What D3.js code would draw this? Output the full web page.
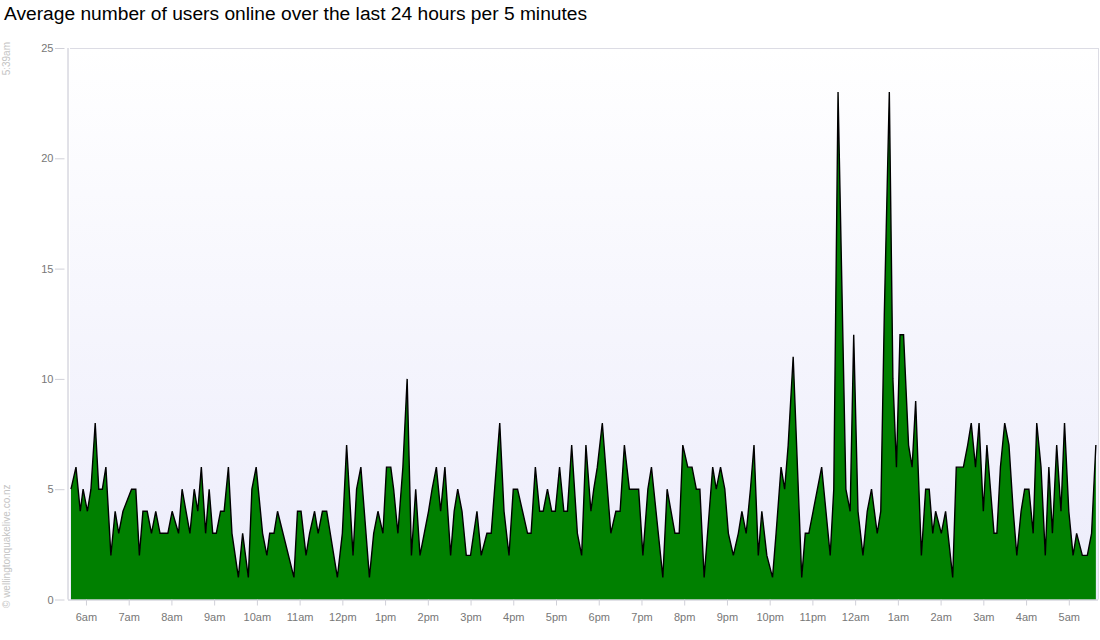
<!DOCTYPE html>
<html>
<head>
<meta charset="utf-8">
<script src="https://cdn.jsdelivr.net/npm/d3@7"></script>
<style>
  html, body { margin: 0; padding: 0; background: #ffffff; }
  svg { display: block; }
</style>
</head>
<body>
<svg id="chart" width="1100" height="640"></svg>
<script>
// ---- data ----
const title = "Average number of users online over the last 24 hours per 5 minutes";
const startLabel = "5:39am";
const credit = "\u00a9 wellingtonquakelive.co.nz";

// minutes after 5:39am
const minutes = [
  0, 7, 13, 17, 23, 28, 34, 39, 44, 49, 56, 62, 67, 73, 85, 91, 96, 101, 107, 113, 119, 125, 136, 142, 151, 156, 167, 173, 178,
  183, 189, 194, 199, 204, 210, 215, 221, 226, 235, 241, 249, 254, 260, 269, 275, 279, 285, 290, 313, 318, 323, 330, 335, 342, 347, 353, 359,
  374, 381, 387, 396, 401, 407, 419, 425, 431, 438, 443, 449, 453, 459, 466, 472, 478, 484, 490, 496, 502, 507, 513, 519, 525, 533,
  538, 543, 549, 555, 561, 570, 576, 584, 590, 602, 608, 615, 621, 627, 634, 641, 646, 652, 658, 663, 669, 675, 680, 686, 692, 697, 703, 711, 717,
  723, 730, 734, 739, 746, 758, 765, 771, 777, 784, 790, 797, 803, 810, 815, 831, 837, 848, 854, 859, 866, 872, 878, 883, 889, 901,
  906, 912, 918, 923, 930, 937, 942, 948, 954, 959, 965, 970, 977, 985, 990, 997, 1002, 1007, 1014, 1026, 1031, 1036, 1042, 1048, 1054, 1066, 1071,
  1077, 1088, 1094, 1099, 1105, 1112, 1118, 1124, 1132, 1137, 1142, 1149, 1154, 1159, 1164, 1169, 1176, 1181, 1186, 1194, 1200, 1205, 1210, 1214, 1222, 1228, 1238, 1243, 1253,
  1259, 1264, 1270, 1275, 1281, 1286, 1296, 1300, 1305, 1311, 1317, 1323, 1328, 1334, 1339, 1345, 1351, 1356, 1362, 1368, 1373, 1378, 1384, 1390, 1395, 1401, 1407, 1412, 1420, 1427, 1433, 1439
];
const users = [
  5, 6, 4, 5, 4, 5, 8, 5, 5, 6, 2, 4, 3, 4, 5, 5, 2, 4, 4, 3, 4, 3, 3, 4, 3, 5, 3, 5, 4,
  6, 3, 5, 3, 3, 4, 4, 6, 3, 1, 3, 1, 5, 6, 3, 2, 3, 3, 4, 1, 4, 4, 2, 3, 4, 3, 4, 4,
  1, 3, 7, 2, 5, 6, 1, 3, 4, 3, 6, 6, 5, 3, 6, 10, 2, 5, 2, 3, 4, 5, 6, 4, 6, 2,
  4, 5, 4, 2, 2, 4, 2, 3, 3, 8, 4, 2, 5, 5, 4, 3, 3, 6, 4, 4, 5, 4, 4, 6, 4, 4, 7, 3, 2,
  7, 4, 5, 6, 8, 3, 4, 4, 7, 5, 5, 5, 2, 5, 6, 1, 5, 3, 3, 7, 6, 6, 5, 5, 1, 6,
  5, 6, 5, 3, 2, 3, 4, 3, 5, 7, 2, 4, 2, 1, 3, 6, 5, 7, 11, 1, 3, 3, 4, 5, 6, 2, 5,
  23, 5, 4, 12, 4, 2, 4, 5, 3, 4, 13, 23, 10, 6, 12, 12, 7, 6, 9, 2, 5, 5, 3, 4, 3, 4, 1, 6, 6,
  7, 8, 6, 8, 4, 7, 3, 3, 6, 8, 7, 4, 2, 4, 5, 5, 3, 8, 6, 2, 6, 3, 7, 4, 8, 4, 2, 3, 2, 2, 3, 7
];
const yTicks = [0, 5, 10, 15, 20, 25];
const hourLabels = ["6am","7am","8am","9am","10am","11am","12pm","1pm","2pm","3pm","4pm","5pm",
                    "6pm","7pm","8pm","9pm","10pm","11pm","12am","1am","2am","3am","4am","5am"];
const yMax = 25;
const spanMinutes = 1442;

// ---- layout ----
const svg = d3.select("#chart");
const pLeft = 70, pRight = 1098, pTop = 48, pBottom = 599.5;
const start = new Date(2011, 8, 1, 5, 39);
const toDate = m => new Date(start.getTime() + m * 60000);

const x = d3.scaleTime()
  .domain([start, toDate(spanMinutes)])
  .range([pLeft + 1, pRight]);
const y = d3.scaleLinear().domain([0, yMax]).range([pBottom, pTop]);

const data = minutes.map((m, i) => ({ t: toDate(m), v: users[i] }));

// background gradient
const defs = svg.append("defs");
const grad = defs.append("linearGradient").attr("id", "bg")
  .attr("x1", 0).attr("y1", 0).attr("x2", 0).attr("y2", 1);
grad.append("stop").attr("offset", "0%").attr("stop-color", "#ffffff");
grad.append("stop").attr("offset", "100%").attr("stop-color", "#ececfb");

svg.append("rect")
  .attr("x", pLeft).attr("y", pTop)
  .attr("width", pRight - pLeft).attr("height", pBottom - pTop)
  .attr("fill", "url(#bg)");

// border top and right
svg.append("line").attr("x1", pLeft).attr("x2", pRight + 0.5).attr("y1", pTop + 0.5).attr("y2", pTop + 0.5)
  .attr("stroke", "#dcdce4").attr("stroke-width", 1);
svg.append("line").attr("x1", pRight + 0.5).attr("x2", pRight + 0.5).attr("y1", pTop).attr("y2", pBottom)
  .attr("stroke", "#dcdce4").attr("stroke-width", 1);

// area + line
const area = d3.area()
  .x(d => x(d.t)).y0(y(0)).y1(d => y(d.v));
const line = d3.line()
  .x(d => x(d.t)).y(d => y(d.v));

svg.append("path").datum(data)
  .attr("d", area)
  .attr("fill", "#008000");
svg.append("path").datum(data)
  .attr("d", line)
  .attr("fill", "none")
  .attr("stroke", "#000000")
  .attr("stroke-width", 1.4)
  .attr("stroke-linejoin", "miter");

// y axis
const yAxis = d3.axisLeft(y).tickValues(yTicks).tickSize(10).tickPadding(4);
const gy = svg.append("g").attr("transform", `translate(${pLeft - 2.5},0)`).call(yAxis);
gy.select(".domain").attr("stroke", "#c4c4d0").attr("d", `M0.5,${pTop}V${pBottom}`);
gy.selectAll(".tick line").attr("stroke", "#d0d0d8").attr("x1", -3).attr("x2", -12.5);
gy.selectAll(".tick text")
  .attr("x", -14)
  .attr("fill", "#777777")
  .style("font-family", "Liberation Sans, Arial, sans-serif")
  .style("font-size", "11px");

// x axis
const hourTicks = d3.timeHour.range(toDate(21), toDate(spanMinutes));
const xAxis = d3.axisBottom(x).tickValues(hourTicks)
  .tickFormat((d, i) => hourLabels[i]).tickSize(6).tickPadding(8);
const gx = svg.append("g").attr("transform", `translate(0,${pBottom})`).call(xAxis);
gx.select(".domain").attr("stroke", "#c4c4d0").attr("d", `M${pLeft - 2},0.5H${pRight}`);
gx.selectAll(".tick line").attr("stroke", "#d0d0d8");
gx.selectAll(".tick text")
  .attr("fill", "#777777")
  .style("font-family", "Liberation Sans, Arial, sans-serif")
  .style("font-size", "11px");

// title
svg.append("text")
  .attr("x", 4).attr("y", 19.5)
  .attr("fill", "#000")
  .style("font-family", "Liberation Sans, Arial, sans-serif")
  .style("font-size", "19.2px")
  .text(title);

// rotated side texts
svg.append("text")
  .attr("transform", "translate(10,42) rotate(-90)")
  .attr("text-anchor", "end")
  .attr("fill", "#c4c4c4")
  .style("font-family", "Liberation Sans, Arial, sans-serif")
  .style("font-size", "10px")
  .text(startLabel);
svg.append("text")
  .attr("transform", "translate(10,608) rotate(-90)")
  .attr("text-anchor", "start")
  .attr("fill", "#c4c4c4")
  .style("font-family", "Liberation Sans, Arial, sans-serif")
  .style("font-size", "10px")
  .text(credit);
</script>
</body>
</html>
